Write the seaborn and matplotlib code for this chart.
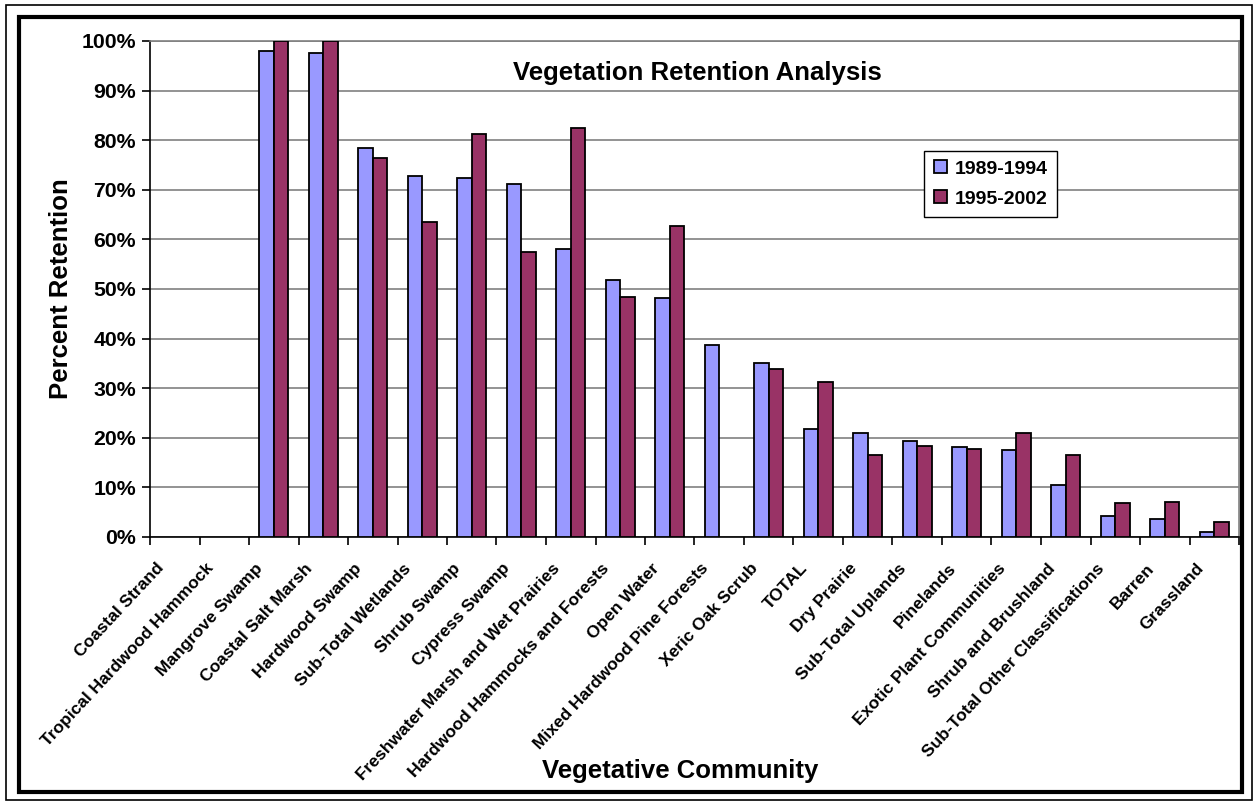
import numpy as np
import pandas as pd
import matplotlib
matplotlib.use("Agg")
import matplotlib.pyplot as plt
import matplotlib.patches as mpatches
from matplotlib.ticker import FixedLocator, PercentFormatter
from matplotlib.transforms import ScaledTranslation
import seaborn as sns

# 식생 유형 (x축)
communities = [
    "Coastal Strand", "Tropical Hardwood Hammock", "Mangrove Swamp",
    "Coastal Salt Marsh", "Hardwood Swamp", "Sub-Total Wetlands",
    "Shrub Swamp", "Cypress Swamp", "Freshwater Marsh and Wet Prairies",
    "Hardwood Hammocks and Forests", "Open Water", "Mixed Hardwood Pine Forests",
    "Xeric Oak Scrub", "TOTAL", "Dry Prairie", "Sub-Total Uplands",
    "Pinelands", "Exotic Plant Communities", "Shrub and Brushland",
    "Sub-Total Other Classifications", "Barren", "Grassland",
]
periods = ["1989-1994", "1995-2002"]

# 보존율 (%) - 그림에서 읽은 값, 없는 막대는 NaN
retention_1989 = [np.nan, np.nan, 97.9, 97.6, 78.4, 72.8, 72.4, 71.2, 58.0, 51.8, 48.2,
                  38.8, 35.0, 21.8, 20.9, 19.4, 18.1, 17.5, 10.5, 4.3, 3.7, 1.1]
retention_1995 = [np.nan, np.nan, 100.0, 100.0, 76.5, 63.6, 81.2, 57.4, 82.5, 48.3, 62.7,
                  np.nan, 33.8, 31.2, 16.5, 18.4, 17.8, 21.0, 16.5, 6.8, 7.1, 3.0]

colors = ["#9999FF", "#993366"]

df = pd.DataFrame({
    "community": communities * 2,
    "period": [periods[0]] * len(communities) + [periods[1]] * len(communities),
    "retention": retention_1989 + retention_1995,
})

plt.rcParams["font.family"] = ["Liberation Sans", "DejaVu Sans"]
plt.rcParams["font.weight"] = "bold"

fig = plt.figure(figsize=(12.53, 8.01), dpi=100)
ax = fig.add_axes([150 / 1253, 1 - 537 / 801, (1239 - 150) / 1253, (537 - 41) / 801])

sns.barplot(data=df, x="community", y="retention", hue="period", order=communities,
            hue_order=periods, palette=colors, width=0.58, edgecolor="black",
            linewidth=1.3, saturation=1, ax=ax, zorder=3)

ax.set_ylim(0, 100)
ax.set_xlim(-0.5, len(communities) - 0.5)
ax.set_yticks(np.arange(0, 101, 10))
ax.yaxis.set_major_formatter(PercentFormatter(decimals=0))
ax.yaxis.grid(True, color="#808080", linewidth=1.2, zorder=0)
ax.set_axisbelow(True)

for s in ["top", "right"]:
    ax.spines[s].set_color("#808080")
    ax.spines[s].set_linewidth(1.2)
for s in ["left", "bottom"]:
    ax.spines[s].set_color("black")
    ax.spines[s].set_linewidth(1.2)

ax.tick_params(axis="y", labelsize=15.3, length=6, width=1.2, pad=4)
ax.set_xticks(range(len(communities)))
ax.set_xticklabels(communities, rotation=47, ha="right", rotation_mode="anchor",
                   fontsize=12.5, fontweight="bold")
ax.tick_params(axis="x", length=0, pad=17)
ax.xaxis.set_minor_locator(FixedLocator(np.arange(-0.5, len(communities), 1)))
ax.tick_params(axis="x", which="minor", length=6, width=1.2)
shift = ScaledTranslation(-19 / 100, 0, fig.dpi_scale_trans)
for lab in ax.get_xticklabels():
    lab.set_transform(lab.get_transform() + shift)
for lab in ax.get_yticklabels():
    lab.set_fontweight("bold")

ax.set_xlabel("Vegetative Community", fontsize=18.5, fontweight="bold")
ax.xaxis.set_label_coords(0.487, -0.448)
ax.set_ylabel("Percent Retention", fontsize=18.5, fontweight="bold")
ax.yaxis.set_label_coords(-0.071, 0.5)

ax.text(0.503, 0.935, "Vegetation Retention Analysis", transform=ax.transAxes,
        ha="center", va="center", fontsize=18.5, fontweight="bold")

handles, labels = ax.get_legend_handles_labels()
leg = ax.legend(handles, labels, loc="upper left", bbox_to_anchor=(0.711, 0.779),
                fontsize=14, frameon=True, fancybox=False, framealpha=1,
                edgecolor="black", handlelength=0.65, handleheight=0.65,
                handletextpad=0.4, labelspacing=0.65, borderpad=0.5,
                borderaxespad=0)
leg.get_frame().set_linewidth(1.0)
for t in leg.get_texts():
    t.set_fontweight("bold")

# 바깥 테두리
fig.patches.append(mpatches.Rectangle((6 / 1253, 1 / 801), 1246 / 1253, 795 / 801,
                                      transform=fig.transFigure, fill=False,
                                      edgecolor="black", linewidth=1.2))
fig.patches.append(mpatches.Rectangle((19 / 1253, 1 - 792 / 801), 1223 / 1253, 775 / 801,
                                      transform=fig.transFigure, fill=False,
                                      edgecolor="black", linewidth=3))

fig.savefig("out.png", dpi=100)
